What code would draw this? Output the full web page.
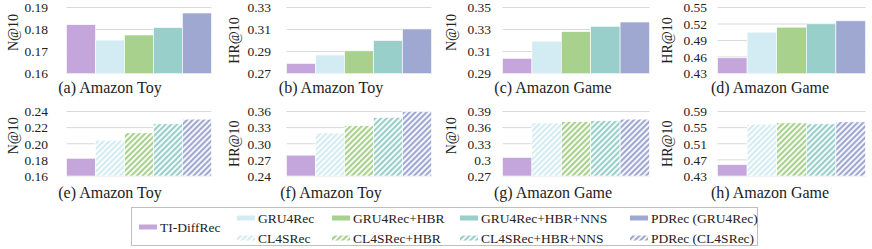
<!DOCTYPE html>
<meta charset="utf-8" />
<script src="https://d3js.org/d3.v7.min.js"></script>
<style>
  body { margin: 0; background: #fff; }
  text { font-family: "Liberation Serif", "Times New Roman", serif; fill: #222; }
</style>
<div id="chart"></div>
<script>
  // methods, in bar order
  const gruMethods = ["TI-DiffRec", "GRU4Rec", "GRU4Rec+HBR", "GRU4Rec+HBR+NNS", "PDRec (GRU4Rec)"];
  const clMethods = ["TI-DiffRec", "CL4SRec", "CL4SRec+HBR", "CL4SRec+HBR+NNS", "PDRec (CL4SRec)"];

  // values
  const toyNdcgGru = [0.1822, 0.1752, 0.1775, 0.1809, 0.1875];
  const toyHrGru = [0.2791, 0.2868, 0.2906, 0.3, 0.3105];
  const gameNdcgGru = [0.3038, 0.3194, 0.3281, 0.3329, 0.3368];
  const gameHrGru = [0.4585, 0.5052, 0.5142, 0.5203, 0.5258];
  const toyNdcgCl = [0.182, 0.2044, 0.2135, 0.2247, 0.2305];
  const toyHrCl = [0.2788, 0.32, 0.3335, 0.3489, 0.3597];
  const gameNdcgCl = [0.3045, 0.3685, 0.371, 0.3728, 0.3758];
  const gameHrCl = [0.4582, 0.5585, 0.5618, 0.5593, 0.5643];

  // tick labels per panel
  const ticksA = ["0.16", "0.17", "0.18", "0.19"];
  const ticksB = ["0.27", "0.29", "0.31", "0.33"];
  const ticksC = ["0.29", "0.31", "0.33", "0.35"];
  const ticksD = ["0.43", "0.46", "0.49", "0.52", "0.55"];
  const ticksE = ["0.16", "0.18", "0.20", "0.22", "0.24"];
  const ticksF = ["0.24", "0.27", "0.30", "0.33", "0.36"];
  const ticksG = ["0.27", "0.3", "0.33", "0.36", "0.39"];
  const ticksH = ["0.43", "0.47", "0.51", "0.55", "0.59"];

  const panels = [
    { values: toyNdcgGru, ticks: ticksA, metric: "N@10", caption: "(a) Amazon Toy", hatch: false },
    { values: toyHrGru, ticks: ticksB, metric: "HR@10", caption: "(b) Amazon Toy", hatch: false },
    { values: gameNdcgGru, ticks: ticksC, metric: "N@10", caption: "(c) Amazon Game", hatch: false },
    { values: gameHrGru, ticks: ticksD, metric: "HR@10", caption: "(d) Amazon Game", hatch: false },
    { values: toyNdcgCl, ticks: ticksE, metric: "N@10", caption: "(e) Amazon Toy", hatch: true },
    { values: toyHrCl, ticks: ticksF, metric: "HR@10", caption: "(f) Amazon Toy", hatch: true },
    { values: gameNdcgCl, ticks: ticksG, metric: "N@10", caption: "(g) Amazon Game", hatch: true },
    { values: gameHrCl, ticks: ticksH, metric: "HR@10", caption: "(h) Amazon Game", hatch: true },
  ];

  const colors = ["#c4a6dd", "#d3ebf2", "#a9d18e", "#98cfca", "#9fa8d1"];

  // layout of the grid of panels
  const plotLeft = [66.5, 286.5, 502.5, 717.5];
  const plotRight = [211.5, 431.5, 649.5, 865.5];
  const labelRight = [48, 271, 491, 707];
  const titleX = [13, 234, 451, 667];
  const captionX = [110, 331, 553, 770];
  const rowTop = [7.5, 111.5];
  const rowBottom = [73.5, 176];
  const captionY = [93, 198];

  const svg = d3
    .select("#chart")
    .append("svg")
    .attr("width", 872)
    .attr("height", 249);

  // hatch patterns for the CL4SRec row
  const defs = svg.append("defs");
  colors.forEach(function (c, i) {
    const p = defs
      .append("pattern")
      .attr("id", "hatch" + i)
      .attr("patternUnits", "userSpaceOnUse")
      .attr("width", 4)
      .attr("height", 4)
      .attr("patternTransform", "rotate(45)");
    p.append("rect").attr("width", 4).attr("height", 4).attr("fill", "#fff");
    p.append("rect").attr("width", 2.2).attr("height", 4).attr("fill", c);
  });

  function fillFor(i, hatch) {
    if (!hatch || i === 0) return colors[i];
    return "url(#hatch" + i + ")";
  }

  panels.forEach(function (p, k) {
    const col = k % 4,
      row = Math.floor(k / 4);
    const names = p.hatch ? clMethods : gruMethods;
    const tv = p.ticks.map(Number);

    const x = d3
      .scaleBand()
      .domain(names)
      .range([plotLeft[col], plotRight[col]])
      .padding(0);

    const y = d3
      .scaleLinear()
      .domain([tv[0], tv[tv.length - 1]])
      .range([rowBottom[row], rowTop[row]]);

    const g = svg.append("g");

    // gridlines
    g.selectAll("line.grid")
      .data(tv)
      .join("line")
      .attr("class", "grid")
      .attr("x1", plotLeft[col])
      .attr("x2", plotRight[col])
      .attr("y1", (d) => y(d))
      .attr("y2", (d) => y(d))
      .attr("stroke", "#d9d9d9")
      .attr("stroke-width", 1);

    // bars
    g.selectAll("rect.bar")
      .data(p.values)
      .join("rect")
      .attr("class", "bar")
      .attr("x", (d, i) => x(names[i]))
      .attr("width", x.bandwidth())
      .attr("y", (d) => y(d))
      .attr("height", (d) => y(tv[0]) - y(d))
      .attr("fill", (d, i) => fillFor(i, p.hatch))
      .attr("stroke", "#fff")
      .attr("stroke-width", 0.6);

    // tick labels
    const axis = d3
      .axisLeft(y)
      .tickValues(tv)
      .tickSize(0)
      .tickPadding(0)
      .tickFormat((d, i) => p.ticks[i]);
    const ag = g
      .append("g")
      .attr("transform", `translate(${labelRight[col]},0)`)
      .call(axis);
    ag.select(".domain").remove();
    ag.selectAll("text")
      .style("font-family", '"Liberation Serif", serif')
      .style("font-size", "13.5px")
      .attr("fill", "#222");

    // metric title (N@10 sits a little higher than HR@10 in the source)
    const shift = p.metric === "N@10" ? -8 : 0;
    g.append("text")
      .attr("transform", "rotate(-90)")
      .attr("x", -((rowTop[row] + rowBottom[row]) / 2 + shift))
      .attr("y", titleX[col] + 5)
      .attr("text-anchor", "middle")
      .style("font-size", "14px")
      .text(p.metric);

    // caption under the panel
    g.append("text")
      .attr("x", captionX[col])
      .attr("y", captionY[row])
      .attr("text-anchor", "middle")
      .style("font-size", "16px")
      .text(p.caption);
  });

  // legend
  const legend = svg.append("g");
  legend
    .append("rect")
    .attr("x", 131.5)
    .attr("y", 207.5)
    .attr("width", 626)
    .attr("height", 38)
    .attr("fill", "none")
    .attr("stroke", "#bfbfbf");

  const legendCols = [139, 237, 332, 460, 630];
  const legendItems = [{ name: gruMethods[0], i: 0, hatch: false, yy: 227 }];
  for (let i = 1; i < 5; i++) {
    legendItems.push({ name: gruMethods[i], i: i, hatch: false, yy: 218 });
    legendItems.push({ name: clMethods[i], i: i, hatch: true, yy: 238 });
  }

  const li = legend
    .selectAll("g")
    .data(legendItems)
    .join("g")
    .attr("transform", (d) => `translate(${legendCols[d.i]},${d.yy})`);

  li.append("rect")
    .attr("x", 0)
    .attr("y", -2.5)
    .attr("width", 18)
    .attr("height", 5)
    .attr("fill", (d) => fillFor(d.i, d.hatch));

  li.append("text")
    .attr("x", 21)
    .attr("y", 4.5)
    .style("font-size", "13.5px")
    .text((d) => d.name);
</script>
